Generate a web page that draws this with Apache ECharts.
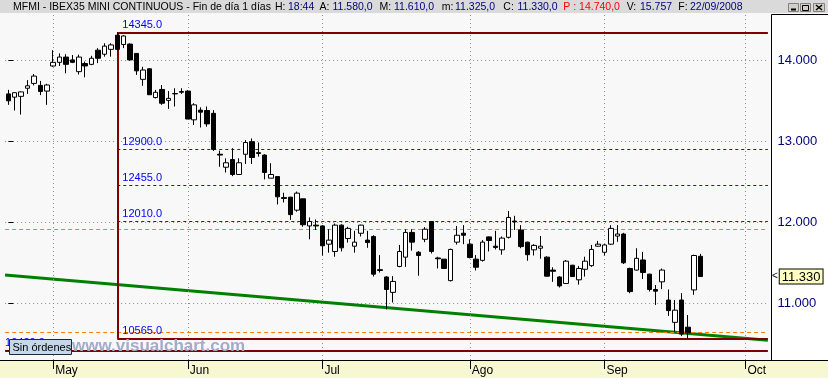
<!DOCTYPE html>
<html><head><meta charset="utf-8">
<script src="https://cdn.jsdelivr.net/npm/echarts@6/dist/echarts.min.js"></script>
<style>html,body{margin:0;padding:0;background:#f8f8f8;overflow:hidden}#c{width:828px;height:378px}</style>
</head><body><div id="c"></div><script>
// ---- data ----
const dates = [
 '22/04','23/04','24/04','25/04','28/04','29/04','30/04',
 '02/05','05/05','06/05','07/05','08/05','09/05','12/05','13/05','14/05','15/05','16/05','19/05','20/05','21/05','22/05','23/05','26/05','27/05','28/05','29/05','30/05',
 '02/06','03/06','04/06','05/06','06/06','09/06','10/06','11/06','12/06','13/06','16/06','17/06','18/06','19/06','20/06','23/06','24/06','25/06','26/06','27/06','30/06',
 '01/07','02/07','03/07','04/07','07/07','08/07','09/07','10/07','11/07','14/07','15/07','16/07','17/07','18/07','21/07','22/07','23/07','24/07','25/07','28/07','29/07','30/07','31/07',
 '01/08','04/08','05/08','06/08','07/08','08/08','11/08','12/08','13/08','14/08','15/08','18/08','19/08','20/08','21/08','22/08','25/08','26/08','27/08','28/08','29/08',
 '01/09','02/09','03/09','04/09','05/09','08/09','09/09','10/09','11/09','12/09','15/09','16/09','17/09','18/09','19/09','22/09',
 '23/09','24/09','25/09','26/09','29/09','30/09','01/10','02/10','03/10','06/10'
];
const openV = [13585,13545,13555,13655,13715,13690,13620,13930,13975,14040,14005,13860,13960,13950,14125,14075,14135,14310,14195,14200,
 14085,13765,13895,13540,13640,13505,13585,13605,13620,13265,13385,13380,13345,12840,12680,12775,12590,12840,12995,12860,
 12830,12545,12565,12305,12310,12150,12290,11955,11965,11955,11730,11640,11965,11800,11705,11865,11780,11825,11415,11325,
 11135,11455,11570,11875,11630,11790,12010,11560,11545,11280,11755,11865,11730,11545,11530,11820,11705,11660,11815,12015,
 11905,11755,11660,11680,11570,11410,11325,11245,11470,11290,11420,11465,11705,11630,11730,11830,11855,11430,11410,11535,
 11360,11170,11265,11040,10765,11040,10705,11165,11580];
const closeV = [13500,13600,13610,13685,13805,13615,13695,13975,14040,13950,13975,14040,13930,14025,14025,14175,14190,14135,14300,14005,
 13870,13880,13575,13605,13470,13530,13590,13615,13275,13450,13360,13215,12900,12830,12735,12590,12735,12985,12800,12850,
 12615,12590,12315,12295,12095,12360,11970,12010,11955,11710,11780,11965,11685,11925,11755,11965,11750,11360,11405,11170,
 11270,11640,11875,11755,11590,11915,11640,11550,11430,11665,11840,11840,11565,11445,11755,11775,11690,11805,12060,12005,
 11700,11600,11715,11705,11335,11395,11215,11520,11330,11430,11520,11665,11730,11720,11925,11855,11500,11145,11555,11380,
 11170,11150,11410,10910,10915,10620,10635,11590,11330];
const lowV = [13450,13380,13330,13585,13690,13570,13450,13920,13930,13840,13965,13825,13790,13940,13965,14045,14045,14125,14150,13995,
 13820,13685,13575,13530,13450,13400,13430,13585,13275,13200,13170,13180,12880,12685,12615,12570,12585,12720,12720,12810,
 12530,12545,12220,12245,12030,12130,11945,11790,11905,11590,11625,11575,11640,11750,11625,11825,11685,11330,11380,10925,
 11010,11445,11450,11650,11340,11755,11615,11430,11430,11270,11725,11730,11555,11405,11515,11640,11665,11600,11800,11905,
 11680,11525,11590,11550,11330,11265,11195,11240,11325,11230,11330,11450,11700,11590,11720,11760,11485,11125,11405,11300,
 11145,10980,11175,10845,10650,10595,10565,11105,11325];
const highV = [13635,13605,13615,13755,13830,13745,13710,14125,14085,14075,14065,14070,13985,14055,14150,14210,14210,14345,14310,14210,
 14085,13920,13900,13635,13695,13620,13655,13655,13630,13470,13420,13430,13385,12885,12790,12915,12790,13015,13035,12985,
 12840,12730,12570,12365,12315,12380,12290,12060,12035,11965,11915,11985,11975,11945,11895,11970,11895,11840,11595,11335,
 11335,11720,11915,11915,11645,11940,12015,11575,11545,11675,11955,11965,11790,11595,11780,11825,11895,11825,12140,12080,
 11965,11760,11730,11830,11580,11445,11335,11535,11475,11460,11575,11720,11770,11730,11965,11965,11870,11440,11680,11635,
 11365,11225,11430,11170,11040,11125,10855,11600,11610];
const monthLabels = {'02/05':'May','02/06':'Jun','01/07':'Jul','01/08':'Ago','01/09':'Sep','01/10':'Oct'};
const yTicks = [11000, 12000, 13000, 14000];
const boxStartDate = '16/05';
const boxHigh = 14345, boxLow = 10565;
const fibLevels = [12900, 12455, 12010];
const lowerLevel = 10420;
const orangeLevels = [11913, 10640];
const trendStart = 11349, trendEnd = 10545;
const prevClose = 14740, volume = '15.757', lastTime = '18:44', lastDate = '22/09/2008';

// ---- helpers ----
const N = dates.length;
const L = -0.5, R = N - 0.5;
const boxIdx = dates.indexOf(boxStartDate);
const last = openV.length - 1;
const thou = v => { const s = String(Math.round(v)); return s.slice(0, -3) + '.' + s.slice(-3); };
const fmtES = v => thou(v) + ',0';
const FONT = '"Liberation Sans", Arial, sans-serif';
const candles = openV.map((o, i) => [o, closeV[i], lowV[i], highV[i]]);
const hline = (x0, x1, v, style, label) => {
  const a = {coord: [x0, v], lineStyle: style};
  if (label) a.label = label; else a.label = {show: false};
  return [a, {coord: [x1, v]}];
};
const lvlLabel = (txt, dx) => ({show: true, position: 'insideStartTop', formatter: txt, color: '#0000ff',
  fontSize: 11, fontFamily: FONT, distance: [dx, 2]});
const redSolid = {color: '#800000', width: 2, type: 'solid'};
const redDash = {color: '#800000', width: 1, type: [3, 3]};
const orangeDash = {color: '#ff8000', width: 1, type: [4, 3]};

const chart = echarts.init(document.getElementById('c'), null, {renderer: 'canvas'});

const headerSegs = [
  ['MFMI - IBEX35 MINI CONTINUOUS - Fin de día 1 días', 13, '#000'],
  ['H:', 275, '#000'], [lastTime, 288, '#000080'],
  ['A:', 319.5, '#000'], [fmtES(openV[last]), 332.5, '#000080'],
  ['M:', 379.5, '#000'], [fmtES(highV[last]), 394, '#000080'],
  ['m:', 441.7, '#000'], [fmtES(lowV[last]), 455, '#000080'],
  ['C:', 503.3, '#000'], [fmtES(closeV[last]), 517.5, '#000080'],
  ['P : ' + fmtES(prevClose), 563.3, '#ff0000'],
  ['V:', 626.7, '#000'], [volume, 640, '#000080'],
  ['F:', 678.3, '#000'], [lastDate, 690, '#000080']
];

const graphics = [
  {type: 'rect', z: -10, shape: {x: 0, y: 0, width: 828, height: 13}, style: {fill: '#dadada'}},
  {type: 'rect', z: -10, shape: {x: 771.5, y: 14.5, width: 60, height: 346}, style: {fill: '#ffffff', stroke: '#000', lineWidth: 1}},
  {type: 'rect', z: -10, shape: {x: 0, y: 360, width: 828, height: 18}, style: {fill: '#f7f7d2'}},
  {type: 'line', z: -9, shape: {x1: 0, y1: 360.5, x2: 828, y2: 360.5}, style: {stroke: '#000', lineWidth: 1}},
  // window buttons
  {type: 'rect', z: 10, shape: {x: 788.5, y: 3.5, width: 10, height: 8}, style: {fill: '#d4d0c8', stroke: '#808080'}},
  {type: 'line', z: 11, shape: {x1: 791, y1: 9.5, x2: 796, y2: 9.5}, style: {stroke: '#000', lineWidth: 2}},
  {type: 'rect', z: 10, shape: {x: 800.5, y: 3.5, width: 10, height: 8}, style: {fill: '#d4d0c8', stroke: '#808080'}},
  {type: 'rect', z: 11, shape: {x: 802.5, y: 5.5, width: 6, height: 5}, style: {fill: 'none', stroke: '#000', lineWidth: 1}},
  {type: 'rect', z: 10, shape: {x: 813.5, y: 3.5, width: 11, height: 8}, style: {fill: '#d4d0c8', stroke: '#808080'}},
  {type: 'line', z: 11, shape: {x1: 816, y1: 5, x2: 822, y2: 10}, style: {stroke: '#000', lineWidth: 1.5}},
  {type: 'line', z: 11, shape: {x1: 822, y1: 5, x2: 816, y2: 10}, style: {stroke: '#000', lineWidth: 1.5}},
  // overlay boxes
  {type: 'text', z: 100, style: {x: 72, y: 346, text: 'www.visualchart.com', fill: '#a3abcb', font: 'bold 17px ' + FONT, verticalAlign: 'middle'}},
  {type: 'rect', z: 101, shape: {x: 9.5, y: 339.5, width: 62, height: 15}, style: {fill: '#c4d8ea', stroke: '#1a2a3a', lineWidth: 1}},
  {type: 'text', z: 102, style: {x: 12.5, y: 347.5, text: 'Sin órdenes', fill: '#000', font: '11px ' + FONT, verticalAlign: 'middle'}}
];
headerSegs.forEach(([t, x, c]) => graphics.push({type: 'text', z: 10,
  style: {x: x, y: 7, text: t, fill: c, font: '10.5px ' + FONT, verticalAlign: 'middle'}}));

const option = {
  animation: false,
  backgroundColor: '#f8f8f8',
  grid: {left: 5.1, right: 60.1, top: 13, bottom: 18},
  xAxis: [
    {type: 'category', data: dates, boundaryGap: true,
     axisLine: {show: false},
     axisTick: {show: true, alignWithLabel: true, length: 9, interval: (i) => !!monthLabels[dates[i]], lineStyle: {color: '#000'}},
     axisLabel: {interval: (i) => !!monthLabels[dates[i]], formatter: v => monthLabels[v] || '', align: 'left',
       margin: 5, padding: [0, 0, 0, 2], color: '#000', fontSize: 12, fontFamily: FONT},
     splitLine: {show: false}},
    {type: 'value', min: L, max: R, show: false}
  ],
  yAxis: [{type: 'value', position: 'right', min: 10300, max: 14584, offset: 3.6,
    axisLine: {show: false},
    axisTick: {show: true, length: 5, customValues: yTicks, lineStyle: {color: '#000'}},
    axisLabel: {customValues: yTicks, formatter: v => thou(v), color: '#000080', fontSize: 13, margin: 6, fontFamily: FONT},
    splitLine: {show: true, lineStyle: {color: '#8c8c8c', type: [1, 3], width: 1}}}],
  graphic: graphics,
  series: [
    {type: 'line', xAxisIndex: 1, yAxisIndex: 0, data: [[L, trendStart], [R, trendEnd]], symbol: 'none', silent: true, z: 3,
     lineStyle: {color: '#008000', width: 3},
     markLine: {symbol: ['none', 'none'], silent: true, animation: false,
       data: [
         ...Object.keys(monthLabels).map(d => ({xAxis: dates.indexOf(d), lineStyle: {color: '#8c8c8c', type: [1, 3], width: 1}, label: {show: false}})),
         ...orangeLevels.map(v => hline(L, R, v, orangeDash)),
         hline(boxIdx, R, boxHigh, redSolid, lvlLabel(boxHigh.toFixed(1), 5)),
         hline(boxIdx, R, boxLow, redSolid, lvlLabel(boxLow.toFixed(1), 5)),
         [{coord: [boxIdx, boxHigh], lineStyle: redSolid, label: {show: false}}, {coord: [boxIdx, boxLow]}],
         ...fibLevels.map(v => hline(boxIdx, R, v, redDash, lvlLabel(v.toFixed(1), 5))),
         hline(L, R, lowerLevel, redSolid, lvlLabel(lowerLevel.toFixed(1), 0))
       ]}},
    {type: 'candlestick', xAxisIndex: 0, yAxisIndex: 0, data: candles, barWidth: 5, z: 5,
     itemStyle: {color: '#ffffff', color0: '#000000', borderColor: '#000000', borderColor0: '#000000', borderWidth: 1},
     markLine: {symbol: ['none', 'none'], silent: true, animation: false,
       data: [{yAxis: closeV[last], lineStyle: {color: 'rgba(0,0,0,0)', width: 1},
         label: {show: true, position: 'end', distance: 4, formatter: '{a|<}{b|' + thou(closeV[last]) + '}',
           rich: {a: {color: '#000', fontSize: 10, fontFamily: FONT, padding: [0, 2, 0, 0]},
                  b: {color: '#000', fontSize: 13, fontFamily: FONT, backgroundColor: '#ffffc0', borderColor: '#000', borderWidth: 1, padding: [1, 2, 0, 2]}}}}]}}
  ]
};
chart.setOption(option);
</script></body></html>
